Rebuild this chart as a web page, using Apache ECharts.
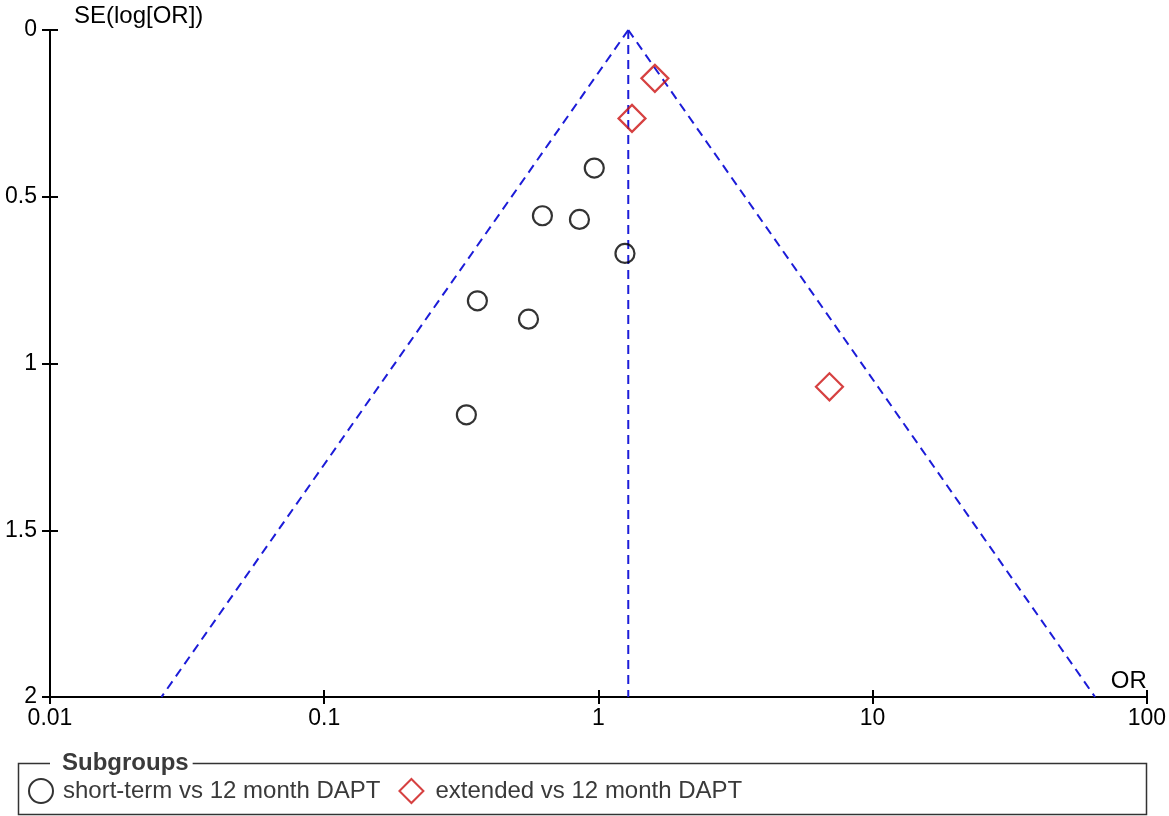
<!DOCTYPE html>
<html>
<head>
<meta charset="utf-8">
<title>Funnel plot</title>
<script src="https://cdn.jsdelivr.net/npm/echarts@6/dist/echarts.min.js"></script>
<style>
  html, body { margin: 0; padding: 0; background: #fff; }
  #chart { width: 1169px; height: 816px; }
</style>
</head>
<body>
<div id="chart"></div>
<script>
// Study estimates: odds ratio and standard error of log(OR)
const shortTermOR = [0.966, 0.625, 0.853, 1.25, 0.362, 0.556, 0.330];
const shortTermSE = [0.414, 0.557, 0.568, 0.670, 0.812, 0.867, 1.154];
const extendedOR = [1.607, 1.326, 6.96];
const extendedSE = [0.145, 0.265, 1.070];

const seriesNames = ['short-term vs 12 month DAPT', 'extended vs 12 month DAPT'];
const xTickLabels = ['0.01', '0.1', '1', '10', '100'];
const yTickLabels = ['0', '0.5', '1', '1.5', '2'];

// Pooled estimate and pseudo 95% confidence limits of the funnel
const pooledOR = 1.285;
const seMax = 2;
const z = 1.96;

const funnelLeft = [[pooledOR, 0], [Math.exp(Math.log(pooledOR) - z * seMax), seMax]];
const funnelRight = [[pooledOR, 0], [Math.exp(Math.log(pooledOR) + z * seMax), seMax]];
const funnelCenter = [[pooledOR, 0], [pooledOR, seMax]];

const pairs = (xs, ys) => xs.map((x, i) => [x, ys[i]]);

const FONT = 'Liberation Sans, Arial, sans-serif';
const blue = '#1c1cd8';
const dash = { color: blue, width: 2, type: [9, 6] };

const xFmt = v => {
  const k = Math.round(Math.log10(v)) + 2;
  return xTickLabels[k] !== undefined ? xTickLabels[k] : '';
};
const yFmt = v => {
  const k = Math.round(v / 0.5);
  return yTickLabels[k] !== undefined ? yTickLabels[k] : '';
};

const baseX = {
  type: 'log', logBase: 10, min: 0.01, max: 100,
  position: 'bottom',
  axisLine: { show: true, onZero: false, lineStyle: { color: '#000', width: 2 } },
  splitLine: { show: false },
  minorTick: { show: false }
};
const baseY = {
  type: 'value', inverse: true, min: 0, max: 2, interval: 0.5,
  position: 'left',
  axisLine: { show: true, onZero: false, lineStyle: { color: '#000', width: 2 } },
  splitLine: { show: false }
};

const chart = echarts.init(document.getElementById('chart'), null, { renderer: 'canvas' });

chart.setOption({
  backgroundColor: '#fff',
  animation: false,
  grid: { left: 50, right: 19, top: 30, bottom: 119, containLabel: false },
  xAxis: [
    Object.assign({}, baseX, {
      name: 'OR',
      nameLocation: 'end',
      nameGap: 0,
      nameTextStyle: { fontFamily: FONT, fontSize: 24, color: '#000', align: 'right', verticalAlign: 'bottom', padding: [0, 0, 4, 0] },
      axisTick: { show: true, inside: false, length: 7, lineStyle: { color: '#000', width: 2 } },
      axisLabel: { show: true, fontFamily: FONT, fontSize: 23, color: '#000', margin: 10, formatter: xFmt }
    }),
    Object.assign({}, baseX, {
      axisTick: { show: true, inside: true, length: 7, lineStyle: { color: '#000', width: 2 } },
      axisLabel: { show: false }
    })
  ],
  yAxis: [
    Object.assign({}, baseY, {
      name: 'SE(log[OR])',
      nameLocation: 'start',
      nameGap: 14,
      nameTextStyle: { fontFamily: FONT, fontSize: 24, color: '#000', align: 'left', verticalAlign: 'middle', padding: [0, 0, 0, 24] },
      axisTick: { show: true, inside: false, length: 8, lineStyle: { color: '#000', width: 2 } },
      axisLabel: { show: true, fontFamily: FONT, fontSize: 23, color: '#000', margin: 13, formatter: yFmt }
    }),
    Object.assign({}, baseY, {
      axisTick: { show: true, inside: true, length: 8, lineStyle: { color: '#000', width: 2 } },
      axisLabel: { show: false }
    })
  ],
  legend: {
    left: 28,
    top: 778,
    padding: 0,
    orient: 'horizontal',
    itemWidth: 24,
    itemHeight: 24,
    itemGap: 18,
    selectedMode: false,
    textStyle: { fontFamily: FONT, fontSize: 24, color: '#3a3a3a' },
    data: [
      { name: seriesNames[0], icon: 'circle', itemStyle: { color: 'rgba(0,0,0,0)', borderColor: '#000', borderWidth: 2 },
        textStyle: { padding: [0, 0, 0, 5] } },
      { name: seriesNames[1], icon: 'diamond', itemStyle: { color: 'rgba(0,0,0,0)', borderColor: '#cc1111', borderWidth: 2 },
        textStyle: { padding: [0, 0, 0, 7] } }
    ]
  },
  graphic: [
    {
      type: 'rect',
      shape: { x: 18.5, y: 763.5, width: 1128, height: 51 },
      style: { fill: 'none', stroke: '#333', lineWidth: 1.5 },
      z: 1
    },
    {
      type: 'text',
      x: 50, y: 763,
      style: {
        text: 'Subgroups',
        font: 'bold 24px ' + FONT,
        fill: '#3a3a3a',
        verticalAlign: 'middle',
        backgroundColor: '#fff',
        padding: [0, 4, 0, 12]
      },
      z: 2
    }
  ],
  series: [
    {
      name: 'funnel-left', type: 'line', data: funnelLeft,
      symbol: 'none', silent: true, lineStyle: dash, z: 1
    },
    {
      name: 'funnel-right', type: 'line', data: funnelRight,
      symbol: 'none', silent: true, lineStyle: dash, z: 1
    },
    {
      name: 'funnel-center', type: 'line', data: funnelCenter,
      symbol: 'none', silent: true, lineStyle: dash, z: 1
    },
    {
      name: seriesNames[0], type: 'scatter', data: pairs(shortTermOR, shortTermSE),
      symbol: 'circle', symbolSize: 19,
      itemStyle: { color: 'rgba(0,0,0,0)', borderColor: '#000', borderWidth: 2.2 }, z: 3
    },
    {
      name: seriesNames[1], type: 'scatter', data: pairs(extendedOR, extendedSE),
      symbol: 'diamond', symbolSize: 27,
      itemStyle: { color: 'rgba(0,0,0,0)', borderColor: '#cc1111', borderWidth: 2.2 }, z: 3
    }
  ]
});
</script>
</body>
</html>
